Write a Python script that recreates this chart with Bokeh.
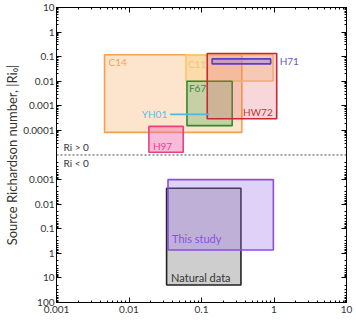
import numpy as np
from bokeh.plotting import figure
from bokeh.models import (FixedTicker, CustomJSTickFormatter, LinearAxis, LogAxis,
                          Span, Label, Range1d)
from bokeh.core.properties import value
from bokeh.embed import file_html
from bokeh.resources import INLINE

# ---------------- data ----------------
# positive Richardson number studies (upper panel)
pos_names = ["C14", "H97", "C11", "F67", "HW72", "H71"]
pos_w_lo = [0.0046, 0.0188, 0.061, 0.063, 0.12, 0.14]
pos_w_hi = [0.36, 0.056, 0.97, 0.265, 1.09, 0.90]
pos_ri_hi = [0.12, 1.46e-4, 0.12, 0.010, 0.135, 0.081]
pos_ri_lo = [8.3e-5, 1.3e-5, 0.0103, 1.56e-4, 3.0e-4, 0.051]

# YH01 is a line segment
yh01_w = [0.037, 0.128]
yh01_ri = 4.5e-4

# negative Richardson number (lower panel), |Ri|
neg_names = ["Natural data", "This study"]
neg_w_lo = [0.033, 0.0345]
neg_w_hi = [0.35, 0.98]
neg_ri_lo = [0.00225, 0.001]   # smaller |Ri| (top of box)
neg_ri_hi = [19.5, 0.73]       # larger |Ri| (bottom of box)

x_ticks = [0.001, 0.01, 0.1, 1, 10]
y_pos_ticks = [10, 1, 0.1, 0.01, 0.001, 0.0001]
y_neg_ticks = [0.001, 0.01, 0.1, 1, 10, 100]

# ---------------- styles ----------------
pos_line = ["#f5a050", "#e8407f", "#f6c870", "#2f8a2f", "#c8282f", "#5a3ec8"]
pos_fill = ["#f7a04a", "#f06ab0", "#f7c060", "#3c9a3c", "#e0606a", "#a08ce8"]
pos_alpha = [0.28, 0.45, 0.30, 0.28, 0.25, 0.55]
pos_text = ["#f5a35a", "#e8408a", "#f0c878", "#3a8a3a", "#c8323c", "#6a55d0"]
neg_line = ["#222222", "#8a4fdc"]
neg_fill = ["#bdbdbd", "#a070ec"]
neg_alpha = [0.75, 0.32]
neg_text = ["#333333", "#8a50e0"]
FONT = "Lato"


def ypos(ri):
    return np.log10(np.asarray(ri, dtype=float)) + 5.0


def yneg(ri):
    return -(np.log10(np.asarray(ri, dtype=float)) + 4.0)


p = figure(width=356, height=336, x_axis_type="log", output_backend="svg",
           toolbar_location=None, x_range=Range1d(0.001, 10), y_range=Range1d(-6, 6),
           min_border_left=56, min_border_right=10, min_border_top=7, min_border_bottom=34,
           x_axis_location=None, y_axis_location=None)
p.xgrid.visible = False
p.ygrid.visible = False
p.outline_line_color = "black"
p.outline_line_width = 1
p.background_fill_color = "white"
p.border_fill_color = "white"

# ticks
x_minor = [m * 10.0 ** k for k in range(-3, 1) for m in range(2, 10)]
xt = FixedTicker(ticks=x_ticks, minor_ticks=x_minor)
y_major = list(ypos(y_pos_ticks)) + list(yneg(y_neg_ticks))
y_minor = [k + np.log10(m) for k in range(0, 6) for m in range(2, 10)] + \
          [-(j + np.log10(m) + 4) for j in range(-4, 2) for m in range(2, 10)]
yt = FixedTicker(ticks=[float(v) for v in y_major], minor_ticks=[float(v) for v in y_minor])
ylabels = {}
for v, t in zip(ypos(y_pos_ticks), y_pos_ticks):
    ylabels[int(round(v))] = f"{t:g}" if t >= 0.001 else "0.0001"
for v, t in zip(yneg(y_neg_ticks), y_neg_ticks):
    ylabels[int(round(v))] = f"{t:g}"
yfmt = CustomJSTickFormatter(args=dict(lab={str(k): v for k, v in ylabels.items()}),
                             code="const k = String(Math.round(tick)); return (k in lab) ? lab[k] : '';")
xfmt = CustomJSTickFormatter(code="return String(parseFloat(tick.toPrecision(3)));")
blank = CustomJSTickFormatter(code="return '';")


def style(ax):
    ax.major_tick_in = 5
    ax.major_tick_out = 0
    ax.minor_tick_in = 2
    ax.minor_tick_out = 0
    ax.axis_line_color = "black"
    ax.major_tick_line_color = "black"
    ax.minor_tick_line_color = "black"
    ax.major_label_text_font = FONT
    ax.major_label_text_font_size = "10px"
    ax.major_label_text_color = "#333333"
    ax.major_label_standoff = 3


bx = LogAxis(ticker=xt, formatter=xfmt)
style(bx)
p.add_layout(bx, "below")
tx = LogAxis(ticker=xt, formatter=blank)
style(tx)
tx.major_label_standoff = 0
tx.major_label_text_font_size = "0px"
p.add_layout(tx, "above")
ly = LinearAxis(ticker=yt, formatter=yfmt)
style(ly)
ly.major_label_standoff = 2
ly.axis_label = "Source Richardson number, |Ri\u2080|"
ly.axis_label_text_font = FONT
ly.axis_label_text_font_size = "13px"
ly.axis_label_text_font_style = "normal"
ly.axis_label_text_color = "#333333"
ly.axis_label_standoff = 0
p.add_layout(ly, "left")
ry = LinearAxis(ticker=yt, formatter=blank)
style(ry)
ry.major_label_standoff = 0
ry.major_label_text_font_size = "0px"
p.add_layout(ry, "right")

# divider
p.add_layout(Span(location=0, dimension="width", line_color="#444444",
                  line_dash="2 2", line_width=1))

# upper boxes
for i, n in enumerate(pos_names):
    p.quad(left=[pos_w_lo[i]], right=[pos_w_hi[i]],
           top=[float(ypos(pos_ri_hi[i]))], bottom=[float(ypos(pos_ri_lo[i]))],
           fill_color=pos_fill[i], fill_alpha=pos_alpha[i],
           line_color=pos_line[i], line_width=1.6)

# YH01 line
p.line(x=yh01_w, y=[float(ypos(yh01_ri))] * 2, line_color="#4fb8dc", line_width=1.6)

# lower boxes
for i, n in enumerate(neg_names):
    p.quad(left=[neg_w_lo[i]], right=[neg_w_hi[i]],
           top=[float(yneg(neg_ri_lo[i]))], bottom=[float(yneg(neg_ri_hi[i]))],
           fill_color=neg_fill[i], fill_alpha=neg_alpha[i],
           line_color=neg_line[i], line_width=1.6)


def lab(x, y, t, color, xo=0, yo=0, align="left", base="middle", size="10px"):
    p.text(x=[x], y=[y], text=[t], text_color=color, x_offset=xo, y_offset=yo,
           text_align=align, text_baseline=base, text_font=value(FONT),
           text_font_size=size)


ip = {n: i for i, n in enumerate(pos_names)}
i = ip["C14"]; lab(pos_w_lo[i], float(ypos(pos_ri_hi[i])), "C14", pos_text[i], 4, 7)
i = ip["C11"]; lab(pos_w_lo[i], float(ypos(pos_ri_hi[i])), "C11", pos_text[i], 2, 9)
i = ip["F67"]; lab(pos_w_lo[i], float(ypos(pos_ri_hi[i])), "F67", pos_text[i], 2, 7)
i = ip["HW72"]; lab(pos_w_hi[i], float(ypos(pos_ri_lo[i])), "HW72", pos_text[i], -4, -7, align="right")
i = ip["H71"]; lab(pos_w_hi[i], float(ypos(np.sqrt(pos_ri_lo[i] * pos_ri_hi[i]))), "H71", pos_text[i], 9, 0)
i = ip["H97"]; lab(pos_w_lo[i], float(ypos(pos_ri_lo[i])), "H97", pos_text[i], 4, -6)
lab(yh01_w[0], float(ypos(yh01_ri)), "YH01", "#5bbfe0", -3, 0, align="right")
lab(0.001, 0, "Ri > 0", "#333333", 7, -8.5)
lab(0.001, 0, "Ri < 0", "#333333", 7, 8)
lab(neg_w_lo[1], float(yneg(neg_ri_hi[1])), "This study", neg_text[1], 4, -11, size="11px")
lab(neg_w_lo[0], float(yneg(neg_ri_hi[0])), "Natural data", neg_text[0], 4.5, -7.5, size="11px")

# x-axis title (partly below the visible window, as in the reference)
p.add_layout(Label(x=145, y=-28, x_units="screen", y_units="screen",
                   text="Wind to plume velocity ratio, W*", text_align="center",
                   text_baseline="top", text_font=FONT, text_font_size="13px",
                   text_color="#333333"))

open("out.html", "w").write(file_html(p, INLINE))
